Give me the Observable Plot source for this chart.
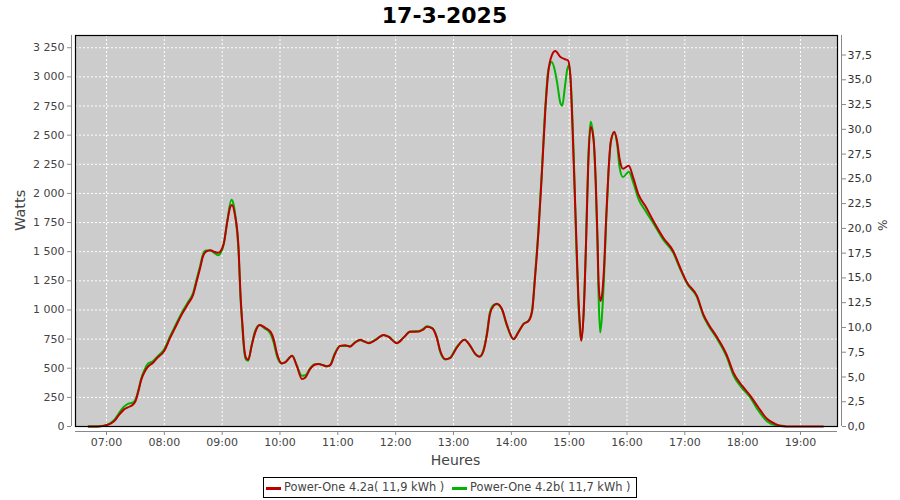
<!DOCTYPE html>
<html>
<head>
<meta charset="utf-8">
<script src="https://cdn.jsdelivr.net/npm/d3@7"></script>
<script src="https://cdn.jsdelivr.net/npm/@observablehq/plot@0.6"></script>
<style>
  html, body { margin: 0; padding: 0; background: #ffffff; }
  #wrap { position: relative; width: 900px; height: 500px; font-family: "DejaVu Sans", sans-serif; }
  #legend { position: absolute; left: 263px; top: 477px; width: 372px; height: 19px; border: 1px solid #000;
            font-size: 11.4px; color: #444; white-space: nowrap; background: #fff; }
  #legend .sw { position: absolute; top: 9px; width: 15px; height: 3px; }
  #legend .tx { position: absolute; top: 2px; line-height: 15px; }
</style>
</head>
<body>
<div id="wrap">
  <div id="chart"></div>
  <div id="legend">
    <span class="sw" style="left:2px;background:#bb0000"></span><span class="tx" id="t1" style="left:20px"></span>
    <span class="sw" style="left:188px;background:#00b400"></span><span class="tx" id="t2" style="left:206px"></span>
  </div>
</div>
<script>
// ---- data ----
const title = "17-3-2025";
const seriesNames = ["Power-One 4.2a( 11,9 kWh )", "Power-One 4.2b( 11,7 kWh )"];
const seriesColors = ["#bb0000", "#00b400"];

// time in decimal hours
const hoursA = [6.69,6.80,6.89,7.00,7.07,7.15,7.21,7.30,7.37,7.45,7.50,7.55,7.60,7.66,7.72,7.80,7.88,8.00,8.10,8.20,8.30,8.40,8.50,8.56,8.62,8.67,8.72,8.80,8.86,8.93,8.98,9.03,9.09,9.145,9.17,9.22,9.28,9.32,9.35,9.38,9.41,9.45,9.51,9.57,9.65,9.74,9.80,9.84,9.89,9.95,10.03,10.09,10.21,10.29,10.38,10.44,10.52,10.60,10.67,10.75,10.81,10.87,10.95,11.04,11.13,11.21,11.30,11.39,11.46,11.53,11.65,11.79,11.88,12.02,12.14,12.25,12.40,12.47,12.54,12.63,12.71,12.77,12.86,12.94,13.06,13.19,13.29,13.38,13.45,13.52,13.58,13.63,13.70,13.75,13.84,13.92,14.04,14.12,14.21,14.30,14.36,14.41,14.47,14.53,14.59,14.64,14.70,14.76,14.85,14.93,14.98,15.02,15.05,15.08,15.12,15.16,15.19,15.21,15.25,15.29,15.33,15.37,15.42,15.46,15.49,15.51,15.54,15.57,15.60,15.64,15.68,15.72,15.78,15.83,15.87,15.93,16.03,16.11,16.20,16.32,16.46,16.63,16.80,16.92,17.04,17.21,17.32,17.41,17.56,17.73,17.84,17.99,18.13,18.27,18.42,18.56,18.64,18.75,19.39];
const wattsA = [0,0,2,12,25,55,95,145,165,185,215,300,400,470,515,545,590,650,760,860,960,1045,1134,1248,1362,1462,1500,1513,1500,1490,1510,1575,1761,1889,1900,1818,1561,1105,878,678,592,573,692,806,872,849,830,810,750,621,541,550,607,521,408,421,493,530,536,525,516,527,621,692,698,684,721,744,730,715,741,786,769,715,763,812,815,830,855,843,763,650,578,587,678,744,692,621,598,650,792,963,1040,1054,1006,878,750,806,878,906,991,1276,1675,2188,2729,3043,3185,3222,3171,3151,3142,3014,2672,2245,1675,1105,849,735,963,1533,2245,2573,2473,2103,1618,1220,1077,1134,1333,1789,2188,2444,2530,2444,2302,2211,2237,2131,1989,1889,1761,1618,1504,1362,1233,1120,963,878,763,607,462,350,265,165,66,23,6,0,0];

const hoursB = [6.69,6.80,6.89,7.00,7.07,7.15,7.21,7.30,7.37,7.45,7.50,7.55,7.60,7.66,7.72,7.80,7.88,8.00,8.10,8.20,8.30,8.40,8.50,8.56,8.62,8.67,8.72,8.80,8.86,8.93,8.98,9.03,9.09,9.16,9.19,9.23,9.28,9.32,9.35,9.38,9.41,9.45,9.51,9.57,9.65,9.74,9.80,9.84,9.89,9.95,10.03,10.09,10.21,10.29,10.38,10.44,10.52,10.60,10.67,10.75,10.81,10.87,10.95,11.04,11.13,11.21,11.30,11.39,11.46,11.53,11.65,11.79,11.88,12.02,12.14,12.25,12.40,12.47,12.54,12.63,12.71,12.77,12.86,12.94,13.06,13.19,13.29,13.38,13.45,13.52,13.58,13.63,13.70,13.75,13.84,13.92,14.04,14.12,14.21,14.30,14.36,14.41,14.47,14.53,14.59,14.64,14.70,14.75,14.79,14.85,14.88,14.93,14.97,15.00,15.03,15.06,15.09,15.12,15.16,15.19,15.21,15.25,15.29,15.33,15.37,15.42,15.46,15.49,15.51,15.535,15.56,15.60,15.64,15.68,15.72,15.78,15.83,15.87,15.93,16.03,16.11,16.20,16.32,16.46,16.63,16.80,16.92,17.04,17.21,17.32,17.41,17.56,17.73,17.84,17.99,18.13,18.27,18.42,18.56,18.73];
const wattsB = [0,0,2,14,30,65,110,170,195,205,230,310,410,490,540,560,600,665,775,875,975,1060,1150,1265,1380,1480,1510,1510,1490,1470,1495,1570,1770,1946,1920,1800,1530,1080,850,650,575,565,700,820,870,840,820,790,720,600,541,552,607,525,436,440,500,535,536,525,516,530,630,690,690,690,725,740,728,718,745,785,770,718,765,815,818,835,860,845,770,640,575,590,685,745,690,620,600,660,810,980,1045,1050,1000,870,748,810,880,910,1000,1300,1700,2210,2760,3060,3127,3060,2957,2772,2752,2929,3071,3100,2940,2600,2150,1600,1050,800,740,980,1560,2290,2615,2480,2060,1560,1100,806,900,1250,1750,2180,2440,2520,2420,2230,2140,2185,2090,1950,1850,1740,1600,1490,1350,1225,1110,950,865,750,590,440,330,250,137,45,12,5];

const yTicks = d3.range(0, 3251, 250);          // Watts
const pctTicks = d3.range(0, 37.51, 2.5);        // %
const hourTicks = d3.range(7, 20);               // 07:00 .. 19:00
const K = 85;                                     // Watts per percent (right axis)

// ---- build ----
document.getElementById("t1").textContent = seriesNames[0];
document.getElementById("t2").textContent = seriesNames[1];

const rows = [
  ...hoursA.map((h, i) => ({h, w: wattsA[i], s: seriesNames[0]})),
  ...hoursB.map((h, i) => ({h, w: wattsB[i], s: seriesNames[1]}))
];
const fr = d3.formatLocale({decimal: ",", thousands: " ", grouping: [3], currency: ["", ""]});
const fmtW = fr.format(",d");
const fmtP = fr.format(".1f");
const fmtH = h => String(h).padStart(2, "0") + ":00";
const axisGray = "#888888";

const chart = Plot.plot({
  width: 900,
  height: 500,
  marginLeft: 75,
  marginRight: 63,
  marginTop: 35,
  marginBottom: 74,
  style: {fontFamily: "DejaVu Sans, sans-serif", fontSize: "11px", color: "#444", background: "transparent"},
  x: {domain: [6.464, 19.640], axis: null},
  y: {domain: [0, 3355], axis: null},
  color: {domain: seriesNames, range: seriesColors},
  marks: [
    Plot.frame({fill: "#cccccc", stroke: null}),
    Plot.gridY(yTicks, {stroke: "white", strokeOpacity: 1, strokeDasharray: "2,2"}),
    Plot.gridX(hourTicks, {stroke: "white", strokeOpacity: 1, strokeDasharray: "2,2"}),
    Plot.line(rows.filter(d => d.s === seriesNames[1]), {x: "h", y: "w", stroke: "s", strokeWidth: 2, curve: "monotone-x"}),
    Plot.line(rows.filter(d => d.s === seriesNames[0]), {x: "h", y: "w", stroke: "s", strokeWidth: 2, curve: "monotone-x"}),
    Plot.frame({stroke: "black", strokeWidth: 1.2}),
    // axis lines
    Plot.ruleX([6.464], {dx: -4, stroke: axisGray}),
    Plot.ruleX([19.640], {dx: 4, stroke: axisGray}),
    Plot.ruleY([0], {dy: 5, stroke: axisGray}),
    Plot.axisY(yTicks, {anchor: "left", tickSize: 4, tickPadding: 3, dx: -4, tickFormat: fmtW, stroke: axisGray, fill: "#444", label: null, fontSize: 11}),
    Plot.axisY(pctTicks.map(p => p * K), {anchor: "right", tickSize: 4, tickPadding: 2, dx: 4, tickFormat: d => fmtP(d / K), stroke: axisGray, fill: "#333", label: null, fontSize: 11}),
    Plot.axisX(hourTicks, {anchor: "bottom", tickSize: 4, tickPadding: 3, dy: 5, tickFormat: fmtH, stroke: axisGray, fill: "#444", label: null, fontSize: 11}),
    // titles
    Plot.text([title], {frameAnchor: "top", dx: -12, dy: -20, lineAnchor: "middle", fontSize: 22, fontWeight: "bold", fill: "#000"}),
    Plot.text(["Watts"], {frameAnchor: "left", dx: -55, rotate: -90, fontSize: 14.5, fill: "#444", lineAnchor: "middle"}),
    Plot.text(["%"], {frameAnchor: "right", dx: 44, rotate: 90, fontSize: 12, fill: "#444", lineAnchor: "middle"}),
    Plot.text(["Heures"], {frameAnchor: "bottom", dy: 34, dx: -1, fontSize: 14, fill: "#444", lineAnchor: "middle"})
  ]
});
document.getElementById("chart").appendChild(chart);
</script>
</body>
</html>
